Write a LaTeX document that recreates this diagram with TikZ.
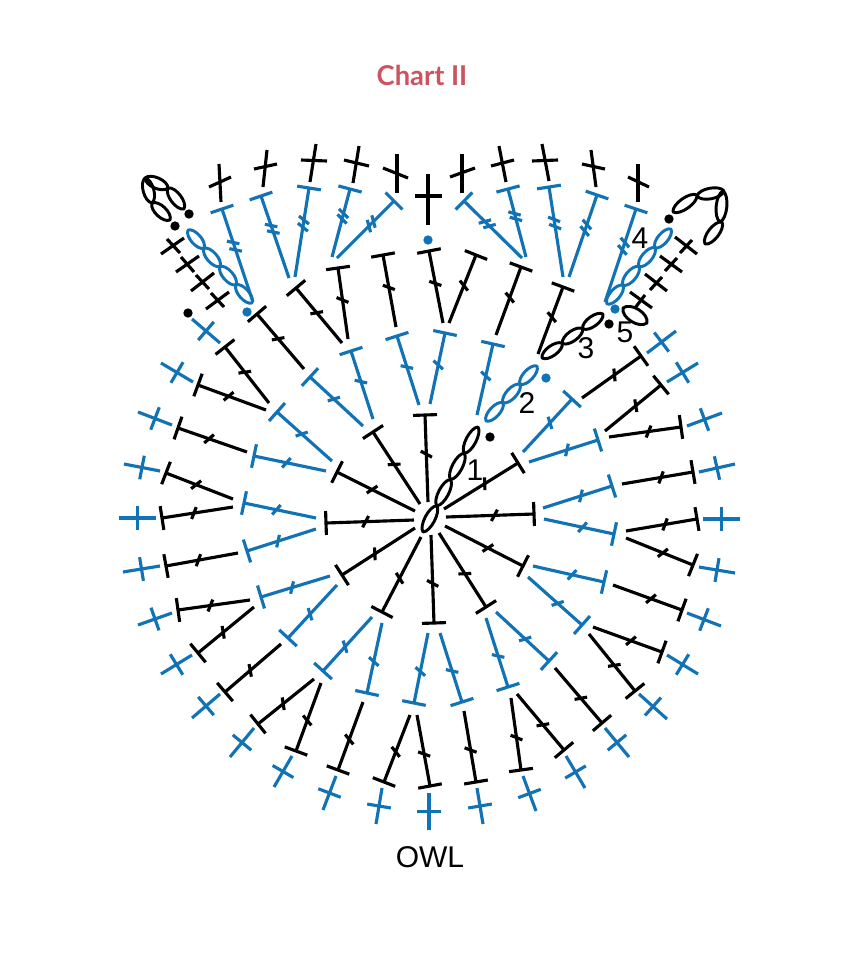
\documentclass[tikz,border=0pt]{standalone}
\usepackage{fontspec}
\setmainfont{Liberation Sans}
\newfontfamily\titlefont{Lato}
\usetikzlibrary{calc}
\definecolor{chartblue}{HTML}{1173B5}
\definecolor{chartred}{HTML}{CB5460}
\tikzset{
  stitchline/.style={line width=2.35pt,line cap=butt},
  chainline/.style={line width=2.2pt,line join=round},
  numlabel/.style={font=\fontsize{22.5}{22.5}\selectfont,inner sep=0pt,text=black},
  dotmark/.style={circle,inner sep=0pt,minimum size=7pt}
}
% T stitch: colour, base, top, tick count
\newcommand\stT[6]{%
  \coordinate (a) at (#2,#3);\coordinate (b) at (#4,#5);
  \draw[stitchline,#1] (a) -- (b);
  \draw[stitchline,#1] ($(b)!9pt!90:(a)$) -- ($(b)!9pt!-90:(a)$);
  \ifnum#6=1
    \coordinate (m) at ($(a)!.55!(b)$);
    \draw[stitchline,#1] ($(m)!4.8pt!-120:(b)$) -- ($(m)!4.8pt!60:(b)$);
  \else
    \coordinate (m) at ($(a)!.56!(b)$);
    \draw[stitchline,#1] ($(m)!4.8pt!-120:(b)$) -- ($(m)!4.8pt!60:(b)$);
    \coordinate (m) at ($(a)!.64!(b)$);
    \draw[stitchline,#1] ($(m)!4.8pt!-120:(b)$) -- ($(m)!4.8pt!60:(b)$);
  \fi}
% plus stitch with a perpendicular bar
\newcommand\stP[4]{%
  \coordinate (a) at (#1,#2);\coordinate (b) at (#3,#4);
  \coordinate (m) at ($(a)!.5!(b)$);
  \draw[stitchline,chartblue] (a) -- (b);
  \draw[stitchline,chartblue] ($(m)!9pt!90:(b)$) -- ($(m)!9pt!-90:(b)$);}
% plus stitch with typed bar
\newcommand\stX[8]{%
  \draw[stitchline,black] (#1,#2) -- (#3,#4);
  \draw[stitchline,black] (#5,#6) -- (#7,#8);}
% chain oval
\newcommand\stO[6][4pt]{%
  \coordinate (a) at (#3,#4);\coordinate (b) at (#5,#6);
  \draw[chainline,#2] (a)
    .. controls ($(a)!.12!(b)!#1*1.33!90:(b)$) and ($(a)!.88!(b)!#1*1.33!90:(b)$) .. (b)
    .. controls ($(b)!.12!(a)!#1*1.33!90:(a)$) and ($(b)!.88!(a)!#1*1.33!90:(a)$) .. (a) -- cycle;}
\newcommand\stC[6]{%
  \foreach \i in {1,...,#6}{%
    \pgfmathsetmacro\fa{(\i-1)/#6}\pgfmathsetmacro\fb{\i/#6}%
    \coordinate (p) at ($(#2,#3)!\fa!(#4,#5)$);
    \coordinate (q) at ($(#2,#3)!\fb!(#4,#5)$);
    \coordinate (a) at (p);\coordinate (b) at (q);
    \draw[chainline,#1] (a)
      .. controls ($(a)!.12!(b)!5pt!90:(b)$) and ($(a)!.88!(b)!5pt!90:(b)$) .. (b)
      .. controls ($(b)!.12!(a)!5pt!90:(a)$) and ($(b)!.88!(a)!5pt!90:(a)$) .. (a) -- cycle;
  }}
\begin{document}
\begin{tikzpicture}[x=0.75pt,y=-0.75pt]
\useasboundingbox (0,0) rectangle (860,972);
\fill[white] (0,0) rectangle (860,972);
\node[font=\titlefont\bfseries\fontsize{20.5}{20.5}\selectfont,text=chartred,inner sep=0pt] (title) at (422,75) {Chart II};
\node[numlabel] (owl) at (430,857) {OWL};
\node[numlabel] (n1) at (475,470) {1};
\node[numlabel] (n2) at (527,403) {2};
\node[numlabel] (n3) at (586,348) {3};
\node[numlabel] (n4) at (640,238) {4};
\node[numlabel] (n5) at (625,332) {5};
% inner black ring
\foreach \p/\q/\r/\s in {420/504/373/432,415/511/337/472,414/520/326/523,415/528/342/575,421/537/382/612,431/535/434/623,439/533/486/607,445/526/523/566,446/517/534/514,444/509/518/463,428/502/425/415}
  {\stT{black}{\p}{\q}{\r}{\s}{1}}
% blue ring
\foreach \p/\q/\r/\s in {363/426/310/377,373/419/351/351,419/405/397/336,332/461/277/412,326/471/254/456,316/518/244/503,316/529/247/551,330/576/261/597,337/585/288/638,372/617/323/671,382/623/367/693,428/633/414/703,440/633/462/702,486/618/508/687,496/612/549/661,528/577/582/625,533/566/604/582,544/519/614/534,543/508/612/486,529/462/598/440,523/452/572/399,477/415/493/344,430/404/445/333}
  {\stT{chartblue}{\p}{\q}{\r}{\s}{1}}
% outer black ring
\foreach \p/\q/\r/\s in {304/369/257/314,342/343/296/288,348/339/338/268,396/327/383/255,443/323/429/251,449/323/476/255,496/335/521/267,538/354/563/287,269/403/225/347,266/410/198/385,247/452/178/428,233/499/166/473,233/507/162/518,238/553/166/566,250/600/178/610,254/607/198/653,281/644/225/692,314/679/258/724,321/683/296/751,363/702/338/770,410/715/384/782,417/715/430/786,464/711/476/782,511/698/521/770,517/694/564/750,555/668/602/723,589/634/635/691,593/627/662/652,613/585/682/610,626/538/693/565,626/531/697/519,622/484/693/472,609/437/681/427,605/431/661/385,582/398/641/356}
  {\stT{black}{\p}{\q}{\r}{\s}{1}}
% blue double-tick row
\foreach \p/\q/\r/\s in {253/302/222/209,289/278/261/196,295/277/309/188,332/257/350/189,337/258/394/201,522/258/464/201,526/257/508/189,563/277/549/187,569/277/597/195,605/302/636/209}
  {\stT{chartblue}{\p}{\q}{\r}{\s}{2}}
% outer blue plus
\foreach \p/\q/\r/\s in {220/343/192/319,193/382/161/363,172/425/138/412,160/471/124/464,156/518/119/518,160/566/123/572,172/613/138/625,192/655/161/674,220/694/192/718,254/728/230/757,292/756/274/787,336/776/323/810,382/788/376/824,429/793/429/830,477/788/483/824,523/776/536/811,566/756/585/788,605/728/629/757,639/694/667/719,667/655/698/674,687/613/721/626,699/567/735/573,703/519/740/519,699/472/735/464,687/426/722/413,667/382/698/363,647/353/676/331}
  {\stP{\p}{\q}{\r}{\s}}
% top black plus
\stX{221}{202}{219}{164}{209}{187}{231}{177}
\stX{263}{187}{267}{150}{254}{169}{277}{164}
\stX{310}{182}{316}{144}{301}{160}{327}{161}
\stX{353}{183}{359}{146}{344}{160}{369}{166}
\stX{397}{193}{397}{154}{383}{168}{408}{178}
\stX{428}{225}{428}{174}{415}{196}{442}{196}
\stX{462}{193}{462}{154}{450}{177}{475}{168}
\stX{506}{182}{499}{146}{491}{166}{514}{160}
\stX{549}{181}{542}{144}{532}{161}{558}{160}
\stX{596}{187}{591}{150}{582}{164}{605}{169}
\stX{638}{202}{638}{164}{628}{177}{649}{187}
% side black plus
\stX{630}{292}{652}{308}{635}{308}{645}{295}
\stX{645}{274}{667}{291}{650}{290}{662}{277}
\stX{660}{256}{682}{272}{665}{271}{677}{258}
\stX{675}{237}{697}{254}{680}{253}{692}{240}
\stX{161}{254}{184}{238}{167}{239}{180}{253}
\stX{176}{272}{199}{256}{181}{257}{194}{272}
\stX{191}{291}{214}{273}{196}{275}{209}{289}
\stX{206}{309}{229}{292}{211}{293}{224}{307}
% chains
\stC{black}{423}{532}{478}{427}{4}
\stC{chartblue}{486}{421}{537}{366}{3}
\stC{black}{542}{358}{603}{314}{3}
\stC{chartblue}{607}{304}{671}{229}{4}
\stC{chartblue}{188}{230}{252}{303}{4}
\stO[5.2pt]{black}{623}{308}{647}{323}
\stO{black}{673}{212}{697}{195}
\stO{black}{697}{196}{724}{191}
\stO{black}{723}{191}{720}{222}
\stO{black}{722}{222}{705}{244}
\stO{black}{184}{209}{168}{188}
\stO{black}{168}{188}{145}{178}
\stO{black}{145}{178}{152}{203}
\stO{black}{152}{203}{170}{220}
% dots
\node[dotmark,fill=black] (d1) at (175,226) {};
\node[dotmark,fill=black] (d2) at (189,214) {};
\node[dotmark,fill=black] (d3) at (188,313) {};
\node[dotmark,fill=black] (d4) at (669,219) {};
\node[dotmark,fill=black] (d5) at (609,324) {};
\node[dotmark,fill=black] (d6) at (490,437) {};
\node[dotmark,fill=chartblue] (d7) at (247,312) {};
\node[dotmark,fill=chartblue] (d8) at (546,378) {};
\node[dotmark,fill=chartblue] (d9) at (615,309) {};
\node[dotmark,fill=chartblue] (d10) at (428,240) {};
\end{tikzpicture}
\end{document}
